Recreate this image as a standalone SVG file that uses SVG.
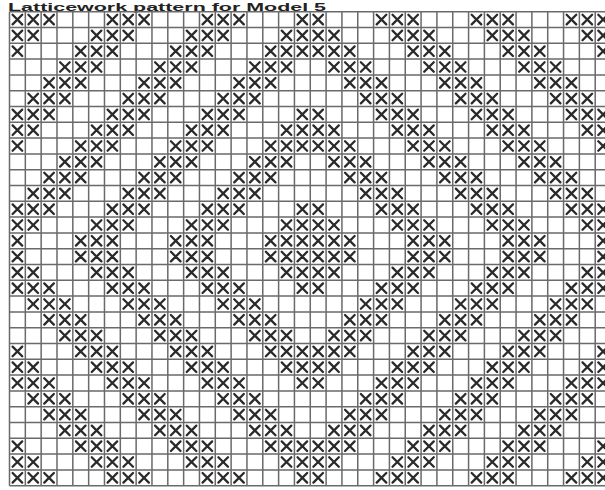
<svg xmlns="http://www.w3.org/2000/svg" xmlns:xlink="http://www.w3.org/1999/xlink" width="605" height="490" viewBox="0 0 605 490">
<style>
.grid{stroke:#6a6a6a;stroke-width:1.5;fill:none}
.xm{stroke:#2a2a2a;stroke-width:2.3;fill:none;stroke-linecap:round}
.title{font-family:"Liberation Sans",Arial,sans-serif;font-weight:bold;font-size:11.5px;fill:#222}
</style>
<defs>
<path id="x" class="xm" d="M3.1,3.1L12.7,12.7M12.7,3.1L3.1,12.7"/>
<g id="p0">
<use href="#x" x="9.5"/><use href="#x" x="25.33"/><use href="#x" x="41.16"/>
<use href="#x" x="104.48"/><use href="#x" x="120.31"/><use href="#x" x="136.14"/>
<use href="#x" x="199.46"/><use href="#x" x="215.29"/><use href="#x" x="231.12"/>
<use href="#x" x="294.44"/><use href="#x" x="310.27"/>
<use href="#x" x="373.59"/><use href="#x" x="389.42"/><use href="#x" x="405.25"/>
<use href="#x" x="468.57"/><use href="#x" x="484.4"/><use href="#x" x="500.23"/>
<use href="#x" x="563.55"/><use href="#x" x="579.38"/><use href="#x" x="595.21"/>
</g>
<g id="p1">
<use href="#x" x="9.5"/><use href="#x" x="25.33"/>
<use href="#x" x="88.65"/><use href="#x" x="104.48"/><use href="#x" x="120.31"/>
<use href="#x" x="183.63"/><use href="#x" x="199.46"/><use href="#x" x="215.29"/>
<use href="#x" x="278.61"/><use href="#x" x="294.44"/><use href="#x" x="310.27"/><use href="#x" x="326.1"/>
<use href="#x" x="389.42"/><use href="#x" x="405.25"/><use href="#x" x="421.08"/>
<use href="#x" x="484.4"/><use href="#x" x="500.23"/><use href="#x" x="516.06"/>
<use href="#x" x="579.38"/><use href="#x" x="595.21"/>
</g>
<g id="p2">
<use href="#x" x="9.5"/>
<use href="#x" x="72.82"/><use href="#x" x="88.65"/><use href="#x" x="104.48"/>
<use href="#x" x="167.8"/><use href="#x" x="183.63"/><use href="#x" x="199.46"/>
<use href="#x" x="262.78"/><use href="#x" x="278.61"/><use href="#x" x="294.44"/><use href="#x" x="310.27"/><use href="#x" x="326.1"/><use href="#x" x="341.93"/>
<use href="#x" x="405.25"/><use href="#x" x="421.08"/><use href="#x" x="436.91"/>
<use href="#x" x="500.23"/><use href="#x" x="516.06"/><use href="#x" x="531.89"/>
<use href="#x" x="595.21"/>
</g>
<g id="p3">
<use href="#x" x="56.99"/><use href="#x" x="72.82"/><use href="#x" x="88.65"/>
<use href="#x" x="151.97"/><use href="#x" x="167.8"/><use href="#x" x="183.63"/>
<use href="#x" x="246.95"/><use href="#x" x="262.78"/><use href="#x" x="278.61"/>
<use href="#x" x="326.1"/><use href="#x" x="341.93"/><use href="#x" x="357.76"/>
<use href="#x" x="421.08"/><use href="#x" x="436.91"/><use href="#x" x="452.74"/>
<use href="#x" x="516.06"/><use href="#x" x="531.89"/><use href="#x" x="547.72"/>
</g>
<g id="p4">
<use href="#x" x="41.16"/><use href="#x" x="56.99"/><use href="#x" x="72.82"/>
<use href="#x" x="136.14"/><use href="#x" x="151.97"/><use href="#x" x="167.8"/>
<use href="#x" x="231.12"/><use href="#x" x="246.95"/><use href="#x" x="262.78"/>
<use href="#x" x="341.93"/><use href="#x" x="357.76"/><use href="#x" x="373.59"/>
<use href="#x" x="436.91"/><use href="#x" x="452.74"/><use href="#x" x="468.57"/>
<use href="#x" x="531.89"/><use href="#x" x="547.72"/><use href="#x" x="563.55"/>
</g>
<g id="p5">
<use href="#x" x="25.33"/><use href="#x" x="41.16"/><use href="#x" x="56.99"/>
<use href="#x" x="120.31"/><use href="#x" x="136.14"/><use href="#x" x="151.97"/>
<use href="#x" x="215.29"/><use href="#x" x="231.12"/><use href="#x" x="246.95"/>
<use href="#x" x="357.76"/><use href="#x" x="373.59"/><use href="#x" x="389.42"/>
<use href="#x" x="452.74"/><use href="#x" x="468.57"/><use href="#x" x="484.4"/>
<use href="#x" x="547.72"/><use href="#x" x="563.55"/><use href="#x" x="579.38"/>
</g>
</defs>
<rect width="605" height="490" fill="#ffffff"/>
<text class="title" x="8" y="10.8" textLength="318" lengthAdjust="spacingAndGlyphs">Latticework pattern for Model 5</text>
<g id="grid" class="grid">
<path d="M9.5,11.7V485.7M25.33,11.7V485.7M41.16,11.7V485.7M56.99,11.7V485.7M72.82,11.7V485.7M88.65,11.7V485.7M104.48,11.7V485.7M120.31,11.7V485.7M136.14,11.7V485.7M151.97,11.7V485.7M167.8,11.7V485.7M183.63,11.7V485.7M199.46,11.7V485.7M215.29,11.7V485.7M231.12,11.7V485.7M246.95,11.7V485.7M262.78,11.7V485.7M278.61,11.7V485.7M294.44,11.7V485.7M310.27,11.7V485.7M326.1,11.7V485.7M341.93,11.7V485.7M357.76,11.7V485.7M373.59,11.7V485.7M389.42,11.7V485.7M405.25,11.7V485.7M421.08,11.7V485.7M436.91,11.7V485.7M452.74,11.7V485.7M468.57,11.7V485.7M484.4,11.7V485.7M500.23,11.7V485.7M516.06,11.7V485.7M531.89,11.7V485.7M547.72,11.7V485.7M563.55,11.7V485.7M579.38,11.7V485.7M595.21,11.7V485.7"/>
<path d="M9.5,11.7H605M9.5,27.5H605M9.5,43.3H605M9.5,59.1H605M9.5,74.9H605M9.5,90.7H605M9.5,106.5H605M9.5,122.3H605M9.5,138.1H605M9.5,153.9H605M9.5,169.7H605M9.5,185.5H605M9.5,201.3H605M9.5,217.1H605M9.5,232.9H605M9.5,248.7H605M9.5,264.5H605M9.5,280.3H605M9.5,296.1H605M9.5,311.9H605M9.5,327.7H605M9.5,343.5H605M9.5,359.3H605M9.5,375.1H605M9.5,390.9H605M9.5,406.7H605M9.5,422.5H605M9.5,438.3H605M9.5,454.1H605M9.5,469.9H605M9.5,485.7H605"/>
</g>
<g id="marks">
<use href="#p0" y="11.7"/>
<use href="#p1" y="27.5"/>
<use href="#p2" y="43.3"/>
<use href="#p3" y="59.1"/>
<use href="#p4" y="74.9"/>
<use href="#p5" y="90.7"/>
<use href="#p0" y="106.5"/>
<use href="#p1" y="122.3"/>
<use href="#p2" y="138.1"/>
<use href="#p3" y="153.9"/>
<use href="#p4" y="169.7"/>
<use href="#p5" y="185.5"/>
<use href="#p0" y="201.3"/>
<use href="#p1" y="217.1"/>
<use href="#p2" y="232.9"/>
<use href="#p2" y="248.7"/>
<use href="#p1" y="264.5"/>
<use href="#p0" y="280.3"/>
<use href="#p5" y="296.1"/>
<use href="#p4" y="311.9"/>
<use href="#p3" y="327.7"/>
<use href="#p2" y="343.5"/>
<use href="#p1" y="359.3"/>
<use href="#p0" y="375.1"/>
<use href="#p5" y="390.9"/>
<use href="#p4" y="406.7"/>
<use href="#p3" y="422.5"/>
<use href="#p2" y="438.3"/>
<use href="#p1" y="454.1"/>
<use href="#p0" y="469.9"/>
</g>
</svg>
